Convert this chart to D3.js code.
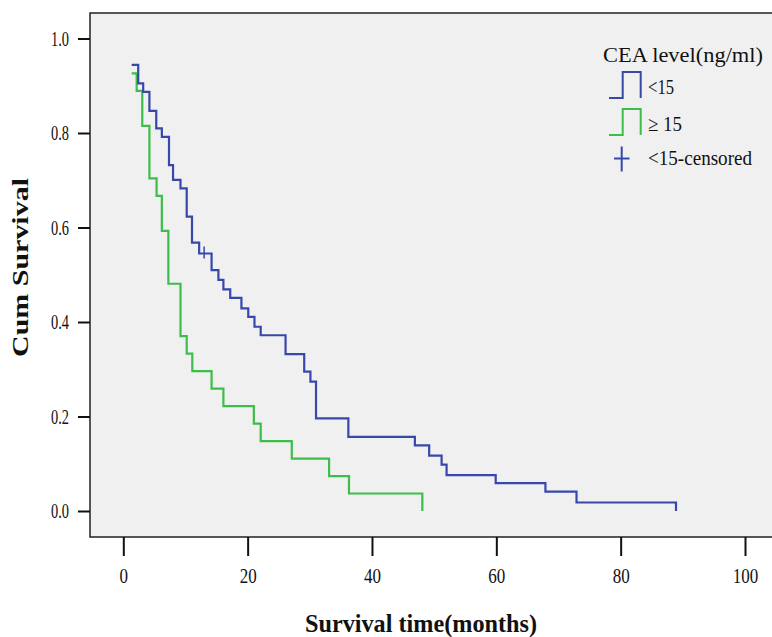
<!DOCTYPE html>
<html>
<head>
<meta charset="utf-8">
<script src="https://cdn.jsdelivr.net/npm/d3@7"></script>
<style>
  html, body { margin: 0; padding: 0; background: #fff; }
  svg { display: block; }
</style>
</head>
<body>
<svg id="km"></svg>
<script>
// tick labels
var xTicks = [0, 20, 40, 60, 80, 100];
var yTicks = [0.0, 0.2, 0.4, 0.6, 0.8, 1.0];

// CEA < 15 (months, cumulative survival)
var lowTime = [1.35, 2.4, 3.2, 4.2, 5.3, 6.2, 7.35, 8.0, 9.2, 10.2, 11.05, 12.2, 14.2, 15.3, 16.1, 17.2,
  19.0, 20.1, 21.1, 22.1, 26.1, 29.1, 30.1, 31.0, 36.2, 46.9, 49.2, 51.2, 52.0, 59.9, 67.9, 72.9, 88.9];
var lowSurv = [0.944, 0.905, 0.887, 0.847, 0.810, 0.792, 0.732, 0.701, 0.683, 0.623, 0.568, 0.545, 0.510, 0.489, 0.469, 0.451,
  0.429, 0.411, 0.390, 0.372, 0.332, 0.295, 0.274, 0.196, 0.157, 0.139, 0.117, 0.098, 0.076, 0.059, 0.041, 0.018, 0.0];

// CEA >= 15
var highTime = [1.35, 2.15, 3.05, 4.2, 5.35, 6.2, 7.25, 9.2, 10.2, 11.1, 14.2, 16.1, 21.0, 22.1, 27.1, 33.1, 36.3, 48.1];
var highSurv = [0.926, 0.889, 0.815, 0.704, 0.667, 0.593, 0.481, 0.370, 0.333, 0.296, 0.259, 0.222, 0.185, 0.148, 0.111, 0.074, 0.037, 0.0];

// censored (<15)
var censorTime = [13.0];
var censorSurv = [0.545];

var legendLabels = ["<15", "\u2265  15", "<15-censored"];
var blue = "#3748aa", green = "#3dbd4a";

var width = 772, height = 637;
var box = { left: 90, top: 13, right: 776, bottom: 537 };

var svg = d3.select("#km").attr("width", width).attr("height", height);
var serif = "'Liberation Serif', 'DejaVu Serif', serif";

var x = d3.scaleLinear().domain([0, 100]).range([123.3, 745]);
var y = d3.scaleLinear().domain([0, 1]).range([511, 38.5]);

// panel
svg.append("rect")
  .attr("x", box.left).attr("y", box.top)
  .attr("width", box.right - box.left).attr("height", box.bottom - box.top)
  .attr("fill", "#f0f0f0").attr("stroke", "#222").attr("stroke-width", 1.5);

// axes
var yAxis = d3.axisLeft(y).tickValues(yTicks).tickFormat(d3.format(".1f")).tickSize(12).tickPadding(9);
var gy = svg.append("g").attr("transform", "translate(" + box.left + ",0)").call(yAxis);
var xAxis = d3.axisBottom(x).tickValues(xTicks).tickFormat(d3.format("d")).tickSize(19).tickPadding(9);
var gx = svg.append("g").attr("transform", "translate(0," + box.bottom + ")").call(xAxis);
[gx, gy].forEach(function(g) {
  g.select(".domain").remove();
  g.selectAll(".tick line").attr("stroke", "#111").attr("stroke-width", 2);
  g.selectAll(".tick text")
    .attr("fill", "#111")
    .style("font-family", serif)
    .style("font-size", "21px");
});
gy.selectAll(".tick text").attr("textLength", 18).attr("lengthAdjust", "spacingAndGlyphs");
gx.selectAll(".tick text").attr("dy", "0.85em")
  .each(function(d) {
    d3.select(this).attr("textLength", String(d).length * 8.5).attr("lengthAdjust", "spacingAndGlyphs");
  });

// survival curves
var step = d3.line()
  .x(function(d) { return x(d[0]); })
  .y(function(d) { return y(d[1]); })
  .curve(d3.curveStepAfter);

svg.append("path")
  .datum(highTime.map(function(t, i) { return [t, highSurv[i]]; }))
  .attr("d", step).attr("fill", "none").attr("stroke", green).attr("stroke-width", 2.2);

svg.append("path")
  .datum(lowTime.map(function(t, i) { return [t, lowSurv[i]]; }))
  .attr("d", step).attr("fill", "none").attr("stroke", blue).attr("stroke-width", 2.2);

svg.selectAll(".censor")
  .data(censorTime.map(function(t, i) { return [t, censorSurv[i]]; }))
  .enter().append("line")
  .attr("class", "censor")
  .attr("x1", function(d) { return x(d[0]); }).attr("x2", function(d) { return x(d[0]); })
  .attr("y1", function(d) { return y(d[1]) - 7; }).attr("y2", function(d) { return y(d[1]) + 5; })
  .attr("stroke", blue).attr("stroke-width", 1.5);

// axis titles
svg.append("text")
  .attr("x", 305).attr("y", 632)
  .attr("textLength", 232).attr("lengthAdjust", "spacingAndGlyphs")
  .style("font-family", serif).style("font-size", "26px").style("font-weight", "bold")
  .attr("fill", "#111")
  .text("Survival time(months)");

svg.append("text")
  .attr("transform", "translate(28,357) rotate(-90)")
  .attr("textLength", 179).attr("lengthAdjust", "spacingAndGlyphs")
  .style("font-family", serif).style("font-size", "23px").style("font-weight", "bold")
  .attr("fill", "#111")
  .text("Cum Survival");

// legend
var legend = svg.append("g");
legend.append("text")
  .attr("x", 603).attr("y", 62)
  .attr("textLength", 160).attr("lengthAdjust", "spacingAndGlyphs")
  .style("font-family", serif).style("font-size", "21px")
  .attr("fill", "#111")
  .text("CEA level(ng/ml)");

var itemY = [98, 135];
[blue, green].forEach(function(c, i) {
  var b = itemY[i];
  legend.append("path")
    .attr("d", "M609," + b + "H622.7V" + (b - 26) + "H640.7V" + b)
    .attr("fill", "none").attr("stroke", c).attr("stroke-width", 2);
});
legend.append("path")
  .attr("d", "M614,158.5H629.5M621.7,146.5V171.5")
  .attr("stroke", blue).attr("stroke-width", 2);

var labelW = [26, 34, 104];
var labelY = [94, 131, 165];
legendLabels.forEach(function(t, i) {
  legend.append("text")
    .attr("x", 648).attr("y", labelY[i])
    .attr("textLength", labelW[i]).attr("lengthAdjust", "spacingAndGlyphs")
    .style("font-family", serif).style("font-size", "21px")
    .attr("fill", "#111")
    .text(t);
});
</script>
</body>
</html>
